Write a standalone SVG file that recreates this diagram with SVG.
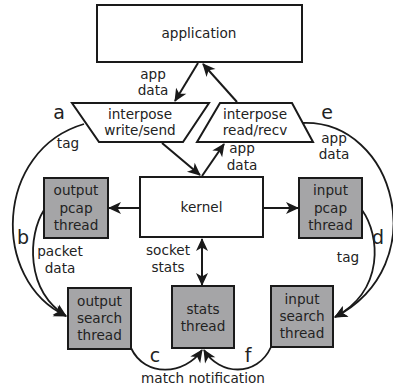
<svg xmlns="http://www.w3.org/2000/svg" width="393" height="387" viewBox="0 0 393 387">
<style>
text{font-family:"DejaVu Sans",sans-serif;font-size:13.6px;fill:#222;text-anchor:middle}
.big{font-size:19px}
.box{fill:#fff;stroke:#1a1a1a;stroke-width:2}
.gray{fill:#a5a5a7;stroke:#1a1a1a;stroke-width:2}
.ln{fill:none;stroke:#1a1a1a;stroke-width:2}
.cv{fill:none;stroke:#1a1a1a;stroke-width:1.8}
</style>
<defs>
<marker id="ah" markerUnits="userSpaceOnUse" markerWidth="14" markerHeight="13" viewBox="-13 -6.5 14 13" refX="0" refY="0" orient="auto-start-reverse">
<path d="M1,0 L-12,-6 L-8.5,0 L-12,6 z" fill="#1a1a1a"/>
</marker>
</defs>
<rect width="393" height="387" fill="#fff"/>
<g id="connectors">
<line class="ln" x1="198" y1="63" x2="175" y2="101" marker-end="url(#ah)"/>
<line class="ln" x1="237" y1="102" x2="203" y2="64" marker-end="url(#ah)"/>
<line class="ln" x1="162" y1="143" x2="200" y2="175" marker-end="url(#ah)"/>
<line class="ln" x1="202" y1="176" x2="224" y2="144" marker-end="url(#ah)"/>
<line class="ln" x1="140" y1="208" x2="109" y2="208" marker-end="url(#ah)"/>
<line class="ln" x1="263" y1="208" x2="298" y2="208" marker-end="url(#ah)"/>
<line class="ln" x1="202" y1="239" x2="202" y2="285" marker-start="url(#ah)" marker-end="url(#ah)"/>
<path class="cv" d="M84,124 C-5,150 -10,280 66,316" marker-end="url(#ah)"/>
<path class="cv" d="M44,210 C28,235 25,290 66,316" marker-end="url(#ah)"/>
<path class="cv" d="M303,123 C395,120 435,265 335,317" marker-end="url(#ah)"/>
<path class="cv" d="M362,210 C380,235 385,290 335,317" marker-end="url(#ah)"/>
<path class="cv" d="M131,348 C145,378 185,375 202,350" marker-end="url(#ah)"/>
<path class="cv" d="M271,347 C257,378 219,375 204,350" marker-end="url(#ah)"/>
<text x="153" y="79">app</text>
<text x="153" y="95">data</text>
<text x="242" y="153">app</text>
<text x="242" y="170">data</text>
<text x="334" y="143">app</text>
<text x="334" y="159">data</text>
<text x="68" y="148">tag</text>
<text x="348" y="262">tag</text>
<text x="60" y="256">packet</text>
<text x="60" y="273">data</text>
<text x="168" y="255">socket</text>
<text x="168" y="272">stats</text>
<text x="203" y="383">match notification</text>
<text class="big" x="59" y="119">a</text>
<text class="big" x="327" y="119">e</text>
<text class="big" x="23" y="244">b</text>
<text class="big" x="378" y="244">d</text>
<text class="big" x="155" y="362">c</text>
<text class="big" x="248" y="362">f</text>
</g>
<g id="application">
<rect class="box" x="97" y="5" width="205" height="57"/>
<text x="199" y="38">application</text>
</g>
<g id="interpose-write">
<polygon class="box" points="72,103 209,103 183,142 99,142"/>
<text x="140" y="119">interpose</text>
<text x="140" y="135">write/send</text>
</g>
<g id="interpose-read">
<polygon class="box" points="220,103 292,103 313,142 197,142"/>
<text x="255" y="119">interpose</text>
<text x="255" y="135">read/recv</text>
</g>
<g id="kernel">
<rect class="box" x="140" y="177" width="123" height="60"/>
<text x="201.5" y="212">kernel</text>
</g>
<g id="output-pcap">
<rect class="gray" x="44" y="178" width="64" height="60"/>
<text x="76" y="195">output</text>
<text x="76" y="212.5">pcap</text>
<text x="76" y="230">thread</text>
</g>
<g id="input-pcap">
<rect class="gray" x="299" y="178" width="63" height="60"/>
<text x="330.5" y="195">input</text>
<text x="330.5" y="212.5">pcap</text>
<text x="330.5" y="230">thread</text>
</g>
<g id="output-search">
<rect class="gray" x="68" y="288" width="63" height="61"/>
<text x="99.5" y="306">output</text>
<text x="99.5" y="323">search</text>
<text x="99.5" y="340">thread</text>
</g>
<g id="stats-thread">
<rect class="gray" x="172" y="286" width="62" height="62"/>
<text x="203" y="314">stats</text>
<text x="203" y="331">thread</text>
</g>
<g id="input-search">
<rect class="gray" x="271" y="286" width="62" height="61"/>
<text x="302" y="304">input</text>
<text x="302" y="321">search</text>
<text x="302" y="338">thread</text>
</g>
</svg>
